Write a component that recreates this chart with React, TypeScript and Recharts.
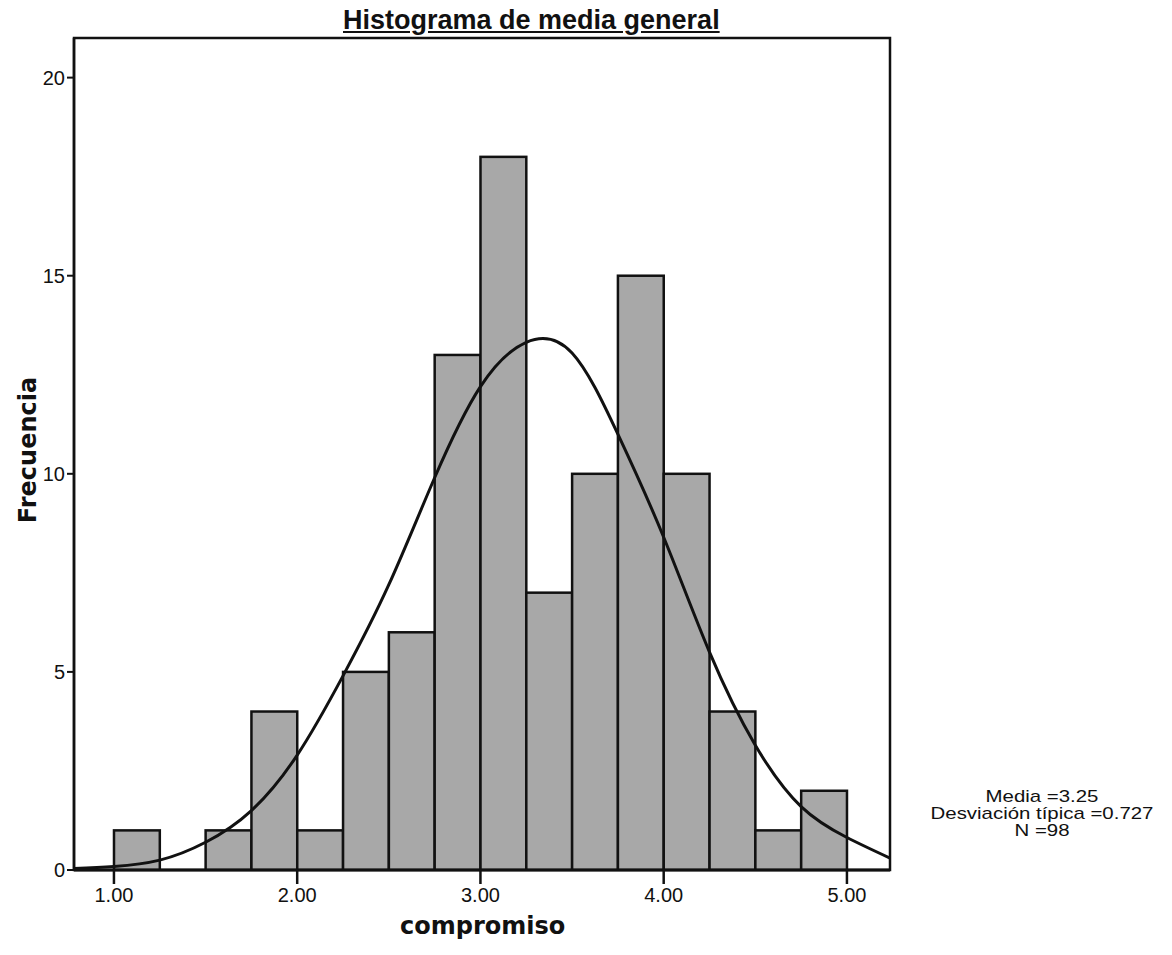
import React from "react";
import { Bar, ComposedChart, Line, ReferenceArea, XAxis, YAxis } from "recharts";

// histogram bins of 0.25 (centre of each bin) and their frequencies
const BIN_MIDS = [1.125, 1.375, 1.625, 1.875, 2.125, 2.375, 2.625, 2.875, 3.125, 3.375, 3.625, 3.875, 4.125, 4.375, 4.625, 4.875];
const COUNTS = [1, 0, 1, 4, 1, 5, 6, 13, 18, 7, 10, 15, 10, 4, 1, 2];

// fitted normal curve, sampled along compromiso
const CURVE_X = [0.78, 1.0, 1.25, 1.5, 1.75, 2.0, 2.25, 2.5, 2.75, 3.0, 3.25, 3.5, 3.75, 4.0, 4.25, 4.5, 4.75, 5.0, 5.235];
const CURVE_Y = [0.04, 0.09, 0.25, 0.7, 1.5, 2.9, 4.9, 7.2, 9.9, 12.2, 13.32, 13.05, 11.0, 8.4, 5.5, 3.15, 1.6, 0.82, 0.3];

const X_TICKS = [1, 2, 3, 4, 5];
const Y_TICKS = [0, 5, 10, 15, 20];

const STATS = ["Media =3.25", "Desviación típica =0.727", "N =98"];

const X_MIN = 0.782;
const X_MAX = 5.235;
const Y_MAX = 21;
const BIN_WIDTH = 0.25;

const W = 1172;
const H = 955;
const MARGIN = { top: 38, right: 282, bottom: 0, left: 28 };
const Y_AXIS_W = 46;
const X_AXIS_H = 85;
const PLOT_W = W - MARGIN.left - MARGIN.right - Y_AXIS_W;
const BAR_PX = (BIN_WIDTH * PLOT_W) / (X_MAX - X_MIN);

const bins = BIN_MIDS.map((x, i) => ({ x, count: COUNTS[i] }));
const curve = CURVE_X.map((x, i) => ({ x, y: CURVE_Y[i] }));

const tickFont = { fontFamily: "'Liberation Sans', Arial, sans-serif", fontSize: 20, fill: "#111" };
const axisTitle: React.CSSProperties = {
  position: "absolute",
  fontFamily: "'DejaVu Sans', Verdana, sans-serif",
  fontWeight: "bold",
  fontSize: 24,
  color: "#111",
  whiteSpace: "nowrap",
};

// bar keeps the scaled centre and height, but spans the whole bin
function BinRect(props: any) {
  const { x, y, width, height } = props;
  if (!height || height <= 0) return null;
  const cx = x + width / 2;
  return (
    <rect
      x={cx - BAR_PX / 2}
      y={y}
      width={BAR_PX}
      height={height}
      fill="#a8a8a8"
      stroke="#111"
      strokeWidth={2.5}
    />
  );
}

export default function App() {
  return (
    <div style={{ position: "absolute", left: 0, top: 0, width: W, height: H, background: "#fff" }}>
      <ComposedChart width={W} height={H} data={bins} margin={MARGIN} barCategoryGap={0} barGap={0}>
        <XAxis
          type="number"
          dataKey="x"
          domain={[X_MIN, X_MAX]}
          ticks={X_TICKS}
          allowDataOverflow
          tickFormatter={(v: number) => v.toFixed(2)}
          height={X_AXIS_H}
          tickSize={14}
          tickMargin={4}
          tick={tickFont}
          axisLine={{ stroke: "#111", strokeWidth: 3 }}
          tickLine={{ stroke: "#111", strokeWidth: 2.5 }}
        />
        <YAxis
          type="number"
          domain={[0, Y_MAX]}
          ticks={Y_TICKS}
          allowDataOverflow
          width={Y_AXIS_W}
          tickSize={7}
          tickMargin={2}
          tick={tickFont}
          axisLine={{ stroke: "#111", strokeWidth: 2.5 }}
          tickLine={{ stroke: "#111", strokeWidth: 2 }}
        />
        <ReferenceArea x1={X_MIN} x2={X_MAX} y1={0} y2={Y_MAX} fill="none" stroke="#111" strokeWidth={2.5} ifOverflow="visible" />
        <Bar dataKey="count" shape={BinRect} isAnimationActive={false} />
        <Line
          data={curve}
          dataKey="y"
          type="natural"
          dot={false}
          activeDot={false}
          stroke="#111"
          strokeWidth={3}
          isAnimationActive={false}
        />
      </ComposedChart>

      <div
        style={{
          position: "absolute",
          left: 343,
          top: 5,
          fontFamily: "'Liberation Sans', Arial, sans-serif",
          fontWeight: "bold",
          fontSize: 27,
          color: "#111",
          whiteSpace: "nowrap",
          textDecoration: "underline",
        }}
      >
        Histograma de media general
      </div>

      <div style={{ ...axisTitle, left: 400, top: 912 }}>compromiso</div>
      <div
        style={{
          ...axisTitle,
          left: 28,
          top: 450,
          transform: "translate(-50%, -50%) rotate(-90deg)",
        }}
      >
        Frecuencia
      </div>

      <div
        style={{
          position: "absolute",
          left: 1042,
          top: 788,
          transform: "translateX(-50%) scaleX(1.2)",
          textAlign: "center",
          fontFamily: "'Liberation Sans', Arial, sans-serif",
          fontSize: 17,
          lineHeight: "17px",
          color: "#111",
          whiteSpace: "nowrap",
        }}
      >
        {STATS.map((s) => (
          <div key={s}>{s}</div>
        ))}
      </div>
    </div>
  );
}
